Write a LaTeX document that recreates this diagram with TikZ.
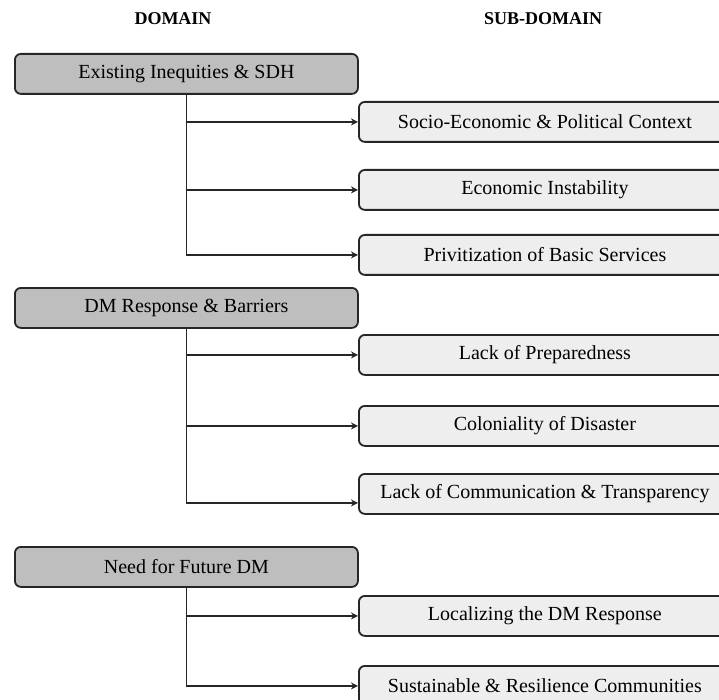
\documentclass[tikz,border=0pt]{standalone}
\usepackage{fontspec}
\setmainfont{Liberation Serif}
\usetikzlibrary{arrows.meta}
\definecolor{domaingray}{HTML}{BEBEBE}
\definecolor{subgray}{HTML}{EEEEEE}
\begin{document}
\begin{tikzpicture}[x=1pt,y=-1pt,
  boxbase/.style={draw=black!85, line width=1.8pt, rounded corners=6pt,
    anchor=north west, inner sep=0pt, minimum height=40pt,
    font=\fontsize{20}{24}\selectfont},
  domainbox/.style={boxbase, fill=domaingray, minimum width=343pt},
  subbox/.style={boxbase, fill=subgray, minimum width=372pt},
  link/.style={line width=1.8pt, draw=black!85, -{Stealth[length=7pt,width=7pt]}},
  header/.style={font=\fontsize{18}{22}\selectfont\bfseries}]
  \useasboundingbox (0,0) rectangle (719,700);
  \clip (0,0) rectangle (719,700);
  \fill[white] (0,0) rectangle (719,700);

  % column headers
  \node[header] (hdom) at (173,19) {DOMAIN};
  \node[header] (hsub) at (543,19) {SUB-DOMAIN};

  % domain 1
  \node[domainbox] (d1) at (14,53) {Existing Inequities \& SDH};
  \node[subbox] (s1) at (358,101) {Socio-Economic \& Political Context};
  \node[subbox] (s2) at (358,169) {Economic Instability};
  \node[subbox] (s3) at (358,234) {Privitization of Basic Services};
  \draw[link] (d1.south |- s1.west) -- (s1.west);
  \draw[link] (d1.south |- s2.west) -- (s2.west);
  \draw[link] (d1.south) |- (s3.west);

  % domain 2
  \node[domainbox] (d2) at (14,287) {DM Response \& Barriers};
  \node[subbox] (s4) at (358,334) {Lack of Preparedness};
  \node[subbox] (s5) at (358,405) {Coloniality of Disaster};
  \node[subbox] (s6) at (358,473) {Lack of Communication \& Transparency};
  \draw[link] (d2.south |- s4.west) -- (s4.west);
  \draw[link] (d2.south |- s5.west) -- (s5.west);
  \draw[link] (d2.south) |- ([yshift=-9pt]s6.west);

  % domain 3
  \node[domainbox] (d3) at (14,546) {Need for Future DM};
  \node[subbox] (s7) at (358,595) {Localizing the DM Response};
  \node[subbox] (s8) at (358,665) {Sustainable \& Resilience Communities};
  \draw[link] (d3.south |- s7.west) -- (s7.west);
  \draw[link] (d3.south) |- (s8.west);
\end{tikzpicture}
\end{document}
